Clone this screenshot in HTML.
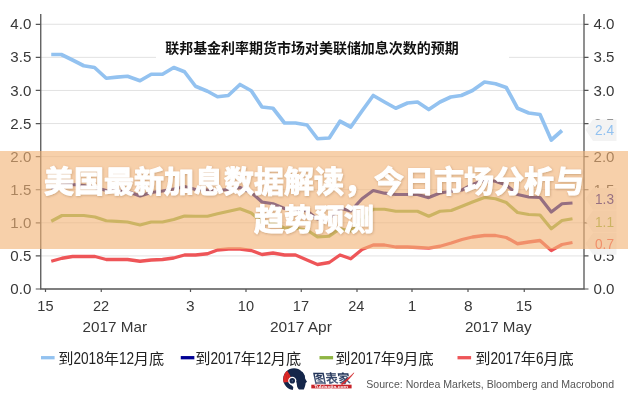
<!DOCTYPE html>
<html lang="zh-CN"><head><meta charset="utf-8"><title>美国最新加息数据解读，今日市场分析与趋势预测</title>
<style>
html,body{margin:0;padding:0;background:#fff}
body{width:628px;height:400px;position:relative;overflow:hidden;font-family:"Liberation Sans",sans-serif}
.banner{position:absolute;left:0;top:150.5px;width:628px;height:98.5px;background:rgba(242,179,118,.62);overflow:hidden}
.banner svg{position:absolute;left:0;top:-0.5px}
.vh{position:absolute;left:0;top:0;width:1px;height:1px;margin:0;overflow:hidden;clip:rect(0 0 0 0);clip-path:inset(50%);opacity:0;font-size:1px;white-space:nowrap}
</style></head><body>
<svg width="628" height="400" viewBox="0 0 628 400" style="position:absolute;left:0;top:0;opacity:.999">
<rect width="628" height="400" fill="#fff"/>
<line x1="40.75" x2="584.0" y1="255.91" y2="255.91" stroke="#e2e2e2" stroke-width="1"/>
<line x1="40.75" x2="584.0" y1="222.82" y2="222.82" stroke="#e2e2e2" stroke-width="1"/>
<line x1="40.75" x2="584.0" y1="189.73" y2="189.73" stroke="#e2e2e2" stroke-width="1"/>
<line x1="40.75" x2="584.0" y1="156.64" y2="156.64" stroke="#e2e2e2" stroke-width="1"/>
<line x1="40.75" x2="584.0" y1="123.55" y2="123.55" stroke="#e2e2e2" stroke-width="1"/>
<line x1="40.75" x2="584.0" y1="90.46" y2="90.46" stroke="#e2e2e2" stroke-width="1"/>
<line x1="40.75" x2="584.0" y1="57.37" y2="57.37" stroke="#e2e2e2" stroke-width="1"/>
<line x1="40.75" x2="584.0" y1="24.28" y2="24.28" stroke="#e2e2e2" stroke-width="1"/>
<rect x="156" y="34" width="353" height="30" fill="#fff"/>
<polyline points="51.25,261.25 62,258.25 72.5,256.5 83.75,256.5 95,256.5 106.25,259.5 117,259.5 127.5,259.5 140,261.25 151.25,260 162.5,259.5 173.75,258 184.5,255 195.5,255 207.5,253.75 217.5,250 228.75,249 240,249 251.25,250.5 262,254.5 273,253 284.5,255 295.5,255 307,260 317.5,264.5 329.25,262.5 340,255 350.75,258.75 362,249.5 373.25,245 384.5,245 395.75,247 407.5,247 417.5,247.5 428.75,248.2 440,246.25 451.25,243 462,239.5 472.5,237 484.5,235.5 495.5,235.5 506.25,237.5 517.5,243.75 528.75,242 540,240.5 551.25,250.5 562,244.5 572.5,242.5" fill="none" stroke="#ee5558" stroke-width="3.3" stroke-linejoin="round" stroke-linecap="butt"/>
<polyline points="51.25,221.25 62,215.5 72.5,215.5 83.75,215.5 95,217 106.25,220.75 117,221.4 127.5,222 140,225 151.25,222 162.5,222 173.75,219.5 184.5,216 195.5,216.25 207.5,216.25 217.5,213.75 228.75,211.25 240,208.75 251.25,213 262,222 273,223 284.5,228 295.5,228 307,230 317.5,237 329.25,236.25 340,228.75 350.75,231 362,219 373.25,209.25 384.5,209.25 395.75,211.25 407.5,211.25 417.5,211.25 428.75,216.25 440,211.25 451.25,210.5 462,206.25 472.5,202 484.5,197.5 495.5,198.75 506.25,202.5 517.5,212.5 528.75,214.5 540,215 551.25,228.75 562,220.5 572.5,218.75" fill="none" stroke="#8fb544" stroke-width="3.2" stroke-linejoin="round" stroke-linecap="butt"/>
<polyline points="51.25,188.5 62,185 72.5,184.5 83.75,185.5 95,187.5 106.25,190.5 117,191 127.5,191.5 140,196 151.25,192.5 162.5,191 173.75,189 184.5,186.5 195.5,189.5 207.5,190 217.5,190.5 228.75,189.5 240,187.5 251.25,192.5 262,202 273,203.75 284.5,208.5 295.5,209 307,211 317.5,219 329.25,218.5 340,208 350.75,211 362,198.75 373.25,190.5 384.5,193.2 395.75,194.5 407.5,194.5 417.5,194.5 428.75,197.6 440,193 451.25,191.25 462,190 472.5,184.5 484.5,180 495.5,181.25 506.25,185 517.5,194.5 528.75,197 540,197.5 551.25,212 562,203.75 572.5,203" fill="none" stroke="#000094" stroke-width="3.2" stroke-linejoin="round" stroke-linecap="butt"/>
<polyline points="51.25,54.5 61.25,54.5 72.5,60 83.75,65.75 94.5,67.5 106.25,78.25 117,77.2 127.5,76.25 140,80.75 151.25,74.25 162.5,74.25 173.75,67.5 184.5,71.75 195.5,86.25 207.5,91.25 217.5,96.75 228.25,95.5 240,84.5 251.25,90.75 262,107 273,108.25 284.5,123 295.5,123 307,125 317.5,138.75 329.25,138 340,121.25 350.75,127 362,111 373.25,95.5 384.5,102 395.75,108.25 407.5,103 417.5,102 428.75,109.5 440,102 450.75,97 461.25,95.5 472.5,90.5 484.5,82 495.5,83.75 506.25,87.5 517.5,108.25 528.75,113 540,114.5 551.25,140 562,130.5" fill="none" stroke="#93c2f0" stroke-width="3.7" stroke-linejoin="round" stroke-linecap="butt"/>
<path d="M40.75 14V289.0H584.0V14" fill="none" stroke="#555" stroke-width="1.3"/>
<path d="M35.75 289.00H40.75M584.0 289.00H588.5M35.75 255.91H40.75M584.0 255.91H588.5M35.75 222.82H40.75M584.0 222.82H588.5M35.75 189.73H40.75M584.0 189.73H588.5M35.75 156.64H40.75M584.0 156.64H588.5M35.75 123.55H40.75M584.0 123.55H588.5M35.75 90.46H40.75M584.0 90.46H588.5M35.75 57.37H40.75M584.0 57.37H588.5M35.75 24.28H40.75M584.0 24.28H588.5M45.5 289.0V292.0M101.25 289.0V292.0M190.5 289.0V292.0M246 289.0V292.0M301.25 289.0V292.0M357 289.0V292.0M412 289.0V292.0M468 289.0V292.0M524.25 289.0V292.0" stroke="#555" stroke-width="1.2" fill="none"/>
<g font-family="Liberation Sans, sans-serif" font-size="14.6" fill="#383838">
<text x="31.3" y="294.10" text-anchor="end" textLength="21" lengthAdjust="spacingAndGlyphs">0.0</text>
<text x="593.5" y="294.10" textLength="21" lengthAdjust="spacingAndGlyphs">0.0</text>
<text x="31.3" y="261.01" text-anchor="end" textLength="21" lengthAdjust="spacingAndGlyphs">0.5</text>
<text x="593.5" y="261.01" textLength="21" lengthAdjust="spacingAndGlyphs">0.5</text>
<text x="31.3" y="227.92" text-anchor="end" textLength="21" lengthAdjust="spacingAndGlyphs">1.0</text>
<text x="593.5" y="227.92" textLength="21" lengthAdjust="spacingAndGlyphs">1.0</text>
<text x="31.3" y="194.83" text-anchor="end" textLength="21" lengthAdjust="spacingAndGlyphs">1.5</text>
<text x="593.5" y="194.83" textLength="21" lengthAdjust="spacingAndGlyphs">1.5</text>
<text x="31.3" y="161.74" text-anchor="end" textLength="21" lengthAdjust="spacingAndGlyphs">2.0</text>
<text x="593.5" y="161.74" textLength="21" lengthAdjust="spacingAndGlyphs">2.0</text>
<text x="31.3" y="128.65" text-anchor="end" textLength="21" lengthAdjust="spacingAndGlyphs">2.5</text>
<text x="593.5" y="128.65" textLength="21" lengthAdjust="spacingAndGlyphs">2.5</text>
<text x="31.3" y="95.56" text-anchor="end" textLength="21" lengthAdjust="spacingAndGlyphs">3.0</text>
<text x="593.5" y="95.56" textLength="21" lengthAdjust="spacingAndGlyphs">3.0</text>
<text x="31.3" y="62.47" text-anchor="end" textLength="21" lengthAdjust="spacingAndGlyphs">3.5</text>
<text x="593.5" y="62.47" textLength="21" lengthAdjust="spacingAndGlyphs">3.5</text>
<text x="31.3" y="29.38" text-anchor="end" textLength="21" lengthAdjust="spacingAndGlyphs">4.0</text>
<text x="593.5" y="29.38" textLength="21" lengthAdjust="spacingAndGlyphs">4.0</text>
<text x="45.4" y="311.3" text-anchor="middle" textLength="16.2" lengthAdjust="spacingAndGlyphs">15</text>
<text x="101.1" y="311.3" text-anchor="middle" textLength="16.2" lengthAdjust="spacingAndGlyphs">22</text>
<text x="190.3" y="311.3" text-anchor="middle" textLength="8.6" lengthAdjust="spacingAndGlyphs">3</text>
<text x="245.9" y="311.3" text-anchor="middle" textLength="16.2" lengthAdjust="spacingAndGlyphs">10</text>
<text x="300.9" y="311.3" text-anchor="middle" textLength="16.2" lengthAdjust="spacingAndGlyphs">17</text>
<text x="356.3" y="311.3" text-anchor="middle" textLength="16.2" lengthAdjust="spacingAndGlyphs">24</text>
<text x="412" y="311.3" text-anchor="middle" textLength="8.6" lengthAdjust="spacingAndGlyphs">1</text>
<text x="468.2" y="311.3" text-anchor="middle" textLength="8.6" lengthAdjust="spacingAndGlyphs">8</text>
<text x="523.9" y="311.3" text-anchor="middle" textLength="16.2" lengthAdjust="spacingAndGlyphs">15</text>
<text x="82.6" y="332" textLength="64.6" lengthAdjust="spacingAndGlyphs">2017 Mar</text>
<text x="269.9" y="332" textLength="62" lengthAdjust="spacingAndGlyphs">2017 Apr</text>
<text x="464.9" y="332" textLength="66.6" lengthAdjust="spacingAndGlyphs">2017 May</text>
</g>
<path d="M585.5 129.7L593 119.39999999999999H616.5V141.0H593Z" fill="#f3f3f3"/>
<text x="595" y="135.29999999999998" font-family="Liberation Sans, sans-serif" font-size="14.6" fill="#93c2f0" textLength="19" lengthAdjust="spacingAndGlyphs">2.4</text>
<path d="M585.5 198.4L593 188.1H616.5V209.70000000000002H593Z" fill="#f3f3f3"/>
<text x="595" y="204.0" font-family="Liberation Sans, sans-serif" font-size="14.6" fill="#000094" textLength="19" lengthAdjust="spacingAndGlyphs">1.3</text>
<path d="M585.5 220.9L593 210.6H616.5V232.20000000000002H593Z" fill="#f3f3f3"/>
<text x="595" y="226.5" font-family="Liberation Sans, sans-serif" font-size="14.6" fill="#8fb544" textLength="19" lengthAdjust="spacingAndGlyphs">1.1</text>
<path d="M585.5 243.4L593 233.1H616.5V254.70000000000002H593Z" fill="#f3f3f3"/>
<text x="595" y="249.0" font-family="Liberation Sans, sans-serif" font-size="14.6" fill="#ee5558" textLength="19" lengthAdjust="spacingAndGlyphs">0.7</text>
<text x="165.2" y="53.2" font-family="'Liberation Sans', 'Noto Sans CJK SC', sans-serif" font-size="14" font-weight="bold" fill="#111" textLength="293.5" lengthAdjust="spacingAndGlyphs">联邦基金利率期货市场对美联储加息次数的预期</text>
<line x1="41" x2="54.6" y1="357.7" y2="357.7" stroke="#93c2f0" stroke-width="3.3"/>
<text x="73.40" y="364.2" font-family="Liberation Sans, sans-serif" font-size="16.4" fill="#222" textLength="30.40" lengthAdjust="spacingAndGlyphs">2018</text>
<text x="118.90" y="364.2" font-family="Liberation Sans, sans-serif" font-size="16.4" fill="#222" textLength="15.20" lengthAdjust="spacingAndGlyphs">12</text>
<g font-family="'Liberation Sans', 'Noto Sans CJK SC', sans-serif" font-size="15.2" fill="#222">
<text x="58.2" y="364">到</text>
<text x="103.8" y="364">年</text>
<text x="133.8" y="364">月底</text>
</g>
<line x1="180.75" x2="194.35" y1="357.7" y2="357.7" stroke="#000094" stroke-width="3.3"/>
<text x="210.40" y="364.2" font-family="Liberation Sans, sans-serif" font-size="16.4" fill="#222" textLength="30.40" lengthAdjust="spacingAndGlyphs">2017</text>
<text x="255.90" y="364.2" font-family="Liberation Sans, sans-serif" font-size="16.4" fill="#222" textLength="15.20" lengthAdjust="spacingAndGlyphs">12</text>
<g font-family="'Liberation Sans', 'Noto Sans CJK SC', sans-serif" font-size="15.2" fill="#222">
<text x="195.2" y="364">到</text>
<text x="240.8" y="364">年</text>
<text x="270.8" y="364">月底</text>
</g>
<line x1="319.5" x2="333.1" y1="357.7" y2="357.7" stroke="#8fb544" stroke-width="3.3"/>
<text x="350.40" y="364.2" font-family="Liberation Sans, sans-serif" font-size="16.4" fill="#222" textLength="30.40" lengthAdjust="spacingAndGlyphs">2017</text>
<text x="395.90" y="364.2" font-family="Liberation Sans, sans-serif" font-size="16.4" fill="#222" textLength="7.60" lengthAdjust="spacingAndGlyphs">9</text>
<g font-family="'Liberation Sans', 'Noto Sans CJK SC', sans-serif" font-size="15.2" fill="#222">
<text x="335.2" y="364">到</text>
<text x="380.8" y="364">年</text>
<text x="403.2" y="364">月底</text>
</g>
<line x1="457.5" x2="471.1" y1="357.7" y2="357.7" stroke="#ee5558" stroke-width="3.3"/>
<text x="490.40" y="364.2" font-family="Liberation Sans, sans-serif" font-size="16.4" fill="#222" textLength="30.40" lengthAdjust="spacingAndGlyphs">2017</text>
<text x="535.90" y="364.2" font-family="Liberation Sans, sans-serif" font-size="16.4" fill="#222" textLength="7.60" lengthAdjust="spacingAndGlyphs">6</text>
<g font-family="'Liberation Sans', 'Noto Sans CJK SC', sans-serif" font-size="15.2" fill="#222">
<text x="475.2" y="364">到</text>
<text x="520.8" y="364">年</text>
<text x="543.2" y="364">月底</text>
</g>
<text x="366.3" y="387.6" font-family="Liberation Sans, sans-serif" font-size="11.2" fill="#555" textLength="247.8" lengthAdjust="spacingAndGlyphs">Source: Nordea Markets, Bloomberg and Macrobond</text>
<g id="logo">
<g transform="translate(280 364) scale(0.07)">
<circle cx="200" cy="215" r="155" fill="#14264a"/>
<path d="M320 110L352 160L360 210L386 255L366 270L362 300L350 340L340 364L250 364L230 200Z" fill="#14264a"/>
<path d="M102 95C75 115 48 160 46 215C46 235 48 250 52 266L122 256C140 240 156 215 156 195C146 160 124 125 102 95Z" fill="#e02a28"/>
<path d="M78 140C95 170 100 210 92 250M110 135C128 170 128 215 112 245" stroke="#9c1c22" stroke-width="7" fill="none" opacity=".6"/>
<path d="M118 262L190 330L184 380L278 380L246 330L236 262Z" fill="#fff"/>
<circle cx="175" cy="240" r="59" fill="#fff"/><circle cx="175" cy="240" r="40" fill="#14264a"/><circle cx="175" cy="240" r="9" fill="#6e86a8"/>
</g>
<defs><linearGradient id="lg" x1="0" y1="0" x2="0" y2="1"><stop offset="0" stop-color="#16284e"/><stop offset="1" stop-color="#5b6b8a"/></linearGradient></defs>
<text transform="translate(314.2 382.9) skewX(11.3)" x="0" y="0" font-family="'Liberation Sans', 'Noto Sans CJK SC', sans-serif" font-size="12.6" font-weight="bold" fill="url(#lg)" textLength="37" lengthAdjust="spacingAndGlyphs">图表家</text>
<path d="M341 384C345 381 350 376.5 354 372.8C351 377 347 381.5 342.6 384.6Z" fill="#d0282c" stroke="#d0282c" stroke-width=".5"/>
<rect x="311.3" y="384.7" width="40.3" height="3.7" fill="#c8242a"/>
<text x="314.2" y="387.8" font-family="Liberation Sans, sans-serif" font-size="3.6" font-weight="bold" fill="#fff" textLength="34" lengthAdjust="spacingAndGlyphs">Tubiaojia.com</text>
</g>
</svg>
<div class="banner" aria-label="美国最新加息数据解读，今日市场分析与趋势预测">
<svg width="628" height="100" viewBox="0 0 628 100"><defs><filter id="sh" x="-5%" y="-20%" width="110%" height="140%"><feDropShadow dx="0.6" dy="0.8" stdDeviation="0.9" flood-color="#5a2d0c" flood-opacity=".28"/></filter></defs><g fill="#fff" stroke="#fff" stroke-width="1" stroke-linejoin="round" filter="url(#sh)" font-family="'Liberation Sans', 'Noto Sans CJK SC', sans-serif" font-size="30" font-weight="bold" text-anchor="middle"><text x="314" y="41.6" textLength="540" lengthAdjust="spacingAndGlyphs">美国最新加息数据解读，今日市场分析与</text><text x="314" y="79.9" textLength="120" lengthAdjust="spacingAndGlyphs">趋势预测</text></g></svg>
<h1 class="vh">美国最新加息数据解读，今日市场分析与趋势预测</h1>
</div>
<p class="vh">联邦基金利率期货市场对美联储加息次数的预期 到2018年12月底 到2017年12月底 到2017年9月底 到2017年6月底 图表家</p>
</body></html>
